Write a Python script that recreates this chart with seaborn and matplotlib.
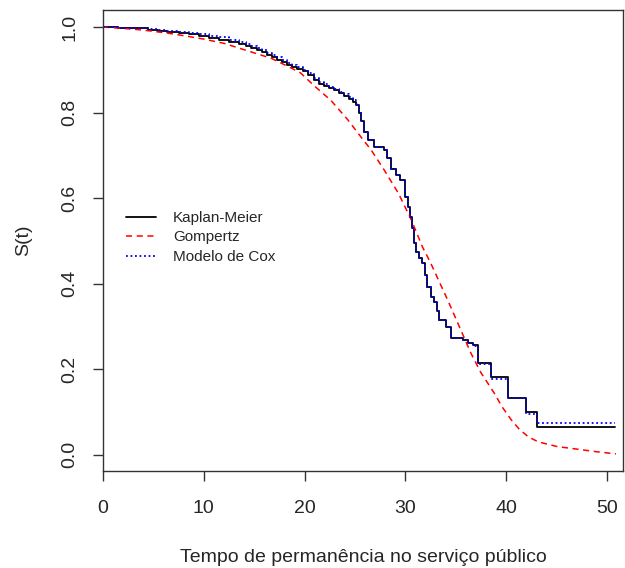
import matplotlib
matplotlib.use("Agg")
import matplotlib.pyplot as plt
import seaborn as sns
import pandas as pd

# Kaplan-Meier estimate (step function)
km_t = [0, 1.5, 2.5, 3.5, 4.5, 5.5, 6.4, 7.5, 8.5, 9.5, 10.5, 11.5, 12.5, 13.5,
        14.2, 14.7, 15.3, 15.8, 16.3, 16.8, 17.3, 17.8, 18.3, 18.8, 19.3, 19.8,
        20.3, 20.9, 21.4, 21.9, 22.4, 22.9, 23.4, 23.9, 24.4, 24.8, 25.1, 25.4,
        25.6, 25.9, 26.3, 26.9, 27.9, 28.2, 28.6, 29.1, 29.45, 30.0, 30.25,
        30.45, 30.65, 30.9, 31.1, 31.4, 31.7, 32.0, 32.2, 32.5, 32.8, 33.1, 33.3,
        34.0, 34.5, 35.7, 36.2, 36.7, 37.2, 38.5, 40.2, 42.0, 43.1, 50.8]
km_s = [1.0, 0.999, 0.998, 0.997, 0.994, 0.991, 0.988, 0.986, 0.983, 0.979,
        0.975, 0.971, 0.966, 0.960, 0.955, 0.951, 0.946, 0.941, 0.935, 0.930,
        0.924, 0.918, 0.912, 0.907, 0.902, 0.897, 0.888, 0.876, 0.868, 0.862,
        0.858, 0.853, 0.846, 0.840, 0.833, 0.826, 0.818, 0.800, 0.780, 0.755,
        0.735, 0.720, 0.713, 0.695, 0.668, 0.655, 0.643, 0.603, 0.580, 0.556,
        0.530, 0.495, 0.475, 0.460, 0.449, 0.420, 0.393, 0.370, 0.357, 0.335,
        0.315, 0.299, 0.273, 0.269, 0.262, 0.257, 0.215, 0.182, 0.133, 0.100,
        0.065, 0.065]

# Cox model survival (step function, same event times)
cox_t = km_t
cox_s = [1.0, 0.999, 0.998, 0.997, 0.995, 0.993, 0.991, 0.989, 0.987, 0.984,
         0.980, 0.976, 0.971, 0.965, 0.960, 0.956, 0.951, 0.946, 0.940, 0.935,
         0.929, 0.923, 0.917, 0.912, 0.906, 0.900, 0.892, 0.880, 0.872, 0.866,
         0.861, 0.856, 0.849, 0.843, 0.836, 0.829, 0.820, 0.801, 0.780, 0.755,
         0.735, 0.720, 0.713, 0.695, 0.668, 0.655, 0.643, 0.603, 0.580, 0.556,
         0.530, 0.495, 0.475, 0.460, 0.449, 0.420, 0.393, 0.370, 0.357, 0.335,
         0.315, 0.299, 0.273, 0.269, 0.262, 0.255, 0.212, 0.177, 0.133, 0.095,
         0.075, 0.075]

# Gompertz fit (smooth curve)
gz_t = [0, 2, 4, 6.4, 8, 10, 12, 14.7, 16.7, 18.7, 19.6, 20.9, 22.6, 24.3,
        25.6, 26.6, 27.9, 29.3, 30.6, 31.7, 32.5, 34.2, 35.5, 36.5, 37.5, 38.8,
        39.6, 40.5, 41.3, 42.2, 43.2, 45.1, 47.4, 49.0, 50.9]
gz_s = [1.0, 0.997, 0.993, 0.986, 0.980, 0.972, 0.962, 0.942, 0.927, 0.904,
        0.893, 0.864, 0.829, 0.783, 0.743, 0.713, 0.666, 0.612, 0.549, 0.486,
        0.449, 0.362, 0.292, 0.238, 0.192, 0.145, 0.112, 0.082, 0.060, 0.042,
        0.030, 0.019, 0.012, 0.007, 0.002]

xticks = [0, 10, 20, 30, 40, 50]
yticks = [0.0, 0.2, 0.4, 0.6, 0.8, 1.0]
ytick_labels = ["0.0", "0.2", "0.4", "0.6", "0.8", "1.0"]

sns.set_theme(style="white")
plt.rcParams['font.family'] = ['Liberation Sans', 'DejaVu Sans']

fig = plt.figure(figsize=(6.25, 5.68), dpi=100)
ax = fig.add_axes([103 / 625, (568 - 471) / 568, (623 - 103) / 625, (471 - 10) / 568])

km = pd.DataFrame({"t": km_t, "s": km_s})
cox = pd.DataFrame({"t": cox_t, "s": cox_s})
gz = pd.DataFrame({"t": gz_t, "s": gz_s})

sns.lineplot(data=km, x="t", y="s", ax=ax, color="black", lw=1.3,
             drawstyle="steps-post", estimator=None, sort=False, label="Kaplan-Meier")
sns.lineplot(data=gz, x="t", y="s", ax=ax, color="red", lw=1.1,
             linestyle=(0, (4, 3)), estimator=None, sort=False, label="Gompertz")
sns.lineplot(data=cox, x="t", y="s", ax=ax, color="blue", lw=1.3,
             linestyle=(0, (1, 1.5)), drawstyle="steps-post", estimator=None,
             sort=False, label="Modelo de Cox")

ax.set_xlim(0, 51.6)
ax.set_ylim(-0.038, 1.04)
ax.set_xticks(xticks)
ax.set_yticks(yticks)
ax.set_yticklabels(ytick_labels, rotation=90, va="center")
ax.tick_params(axis="both", direction="out", length=7, width=1, color="#333333",
               labelsize=14, left=True, bottom=True)
ax.tick_params(axis="x", pad=14)
ax.tick_params(axis="y", pad=11)
for sp in ax.spines.values():
    sp.set_visible(True)
    sp.set_color("#333333")
    sp.set_linewidth(1)

ax.set_xlabel("Tempo de permanência no serviço público", fontsize=14, labelpad=23)
ax.set_ylabel("S(t)", fontsize=14, labelpad=21)

leg = ax.legend(loc="upper left", bbox_to_anchor=(0.044, 0.564), frameon=False,
                fontsize=11, handlelength=1.95, handletextpad=1.13,
                labelspacing=0.36, borderaxespad=0, borderpad=0)

fig.savefig("out.png", dpi=100)
